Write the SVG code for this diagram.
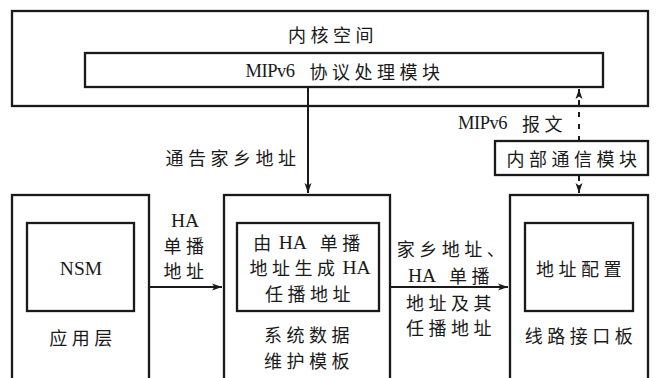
<svg xmlns="http://www.w3.org/2000/svg" width="658" height="378" viewBox="0 0 658 378">
<style>
.b{fill:none;stroke:#1a1a1a;stroke-width:2.3}
.l{fill:none;stroke:#1a1a1a;stroke-width:2}
.d{fill:none;stroke:#1a1a1a;stroke-width:2;stroke-dasharray:5 7}
text{font-family:"Noto Sans CJK SC",sans-serif;font-size:18px;fill:#1a1a1a;text-anchor:middle;dominant-baseline:central;letter-spacing:4.5px}
.e{font-family:"Liberation Serif","Times New Roman",serif;letter-spacing:0;font-size:19.5px}
.m{font-family:"Liberation Serif","Times New Roman",serif;letter-spacing:-0.5px;font-size:18.5px}
</style>
<defs>
<marker id="ah" viewBox="0 0 10 8" refX="10" refY="4" markerWidth="10" markerHeight="8" markerUnits="userSpaceOnUse" orient="auto">
<path d="M0,0.5 L10,4 L0,7.5 L2.5,4 Z" fill="#1a1a1a"/>
</marker>
</defs>
<rect width="658" height="378" fill="#fff"/>
<g id="kernel">
<rect class="b" x="12" y="11" width="636" height="95"/>
<text x="333" y="34">内核空间</text>
</g>
<g id="mipv6">
<rect class="b" x="85" y="53" width="518" height="34"/>
<text x="345" y="71"><tspan class="m">MIPv6</tspan><tspan dx="15">协议处理模块</tspan></text>
</g>
<g id="comm">
<rect class="b" x="495" y="141" width="153" height="34"/>
<text x="574" y="158">内部通信模块</text>
</g>
<g id="app">
<rect class="b" x="12" y="195" width="137" height="200"/>
<rect class="b" x="27" y="223" width="107" height="88"/>
<text class="e" x="81" y="268">NSM</text>
<text x="83" y="337">应用层</text>
</g>
<g id="sys">
<rect class="b" x="224" y="195" width="166" height="200"/>
<rect class="b" x="237" y="223" width="142" height="88"/>
<text x="309" y="242">由<tspan class="e" dx="3">HA</tspan><tspan dx="13">单播</tspan></text>
<text x="310" y="267">地址生成<tspan class="e" dx="3">HA</tspan></text>
<text x="310" y="293">任播地址</text>
<text x="309" y="334">系统数据</text>
<text x="309" y="360">维护模板</text>
</g>
<g id="line">
<rect class="b" x="510" y="195" width="138" height="200"/>
<rect class="b" x="525" y="223" width="108" height="88"/>
<text x="581" y="268">地址配置</text>
<text x="581" y="335">线路接口板</text>
</g>
<g id="connectors">
<line class="l" x1="308" y1="87" x2="308" y2="193" marker-end="url(#ah)"/>
<line class="d" x1="579" y1="141" x2="579" y2="89" marker-end="url(#ah)"/>
<line class="d" x1="579" y1="176" x2="579" y2="193" marker-end="url(#ah)"/>
<line class="l" x1="150" y1="287" x2="222" y2="287" marker-end="url(#ah)"/>
<line class="l" x1="391" y1="287" x2="508" y2="287" marker-end="url(#ah)"/>
<text x="233" y="157">通告家乡地址</text>
<text x="567" y="123" style="text-anchor:end"><tspan class="m">MIPv6</tspan><tspan dx="15">报文</tspan></text>
<text class="e" x="185" y="220">HA</text>
<text x="186" y="245">单播</text>
<text x="186" y="270">地址</text>
<text x="453" y="248">家乡地址、</text>
<text x="451" y="275"><tspan class="e">HA</tspan><tspan dx="13">单播</tspan></text>
<text x="451" y="302">地址及其</text>
<text x="451" y="327">任播地址</text>
</g>
</svg>
